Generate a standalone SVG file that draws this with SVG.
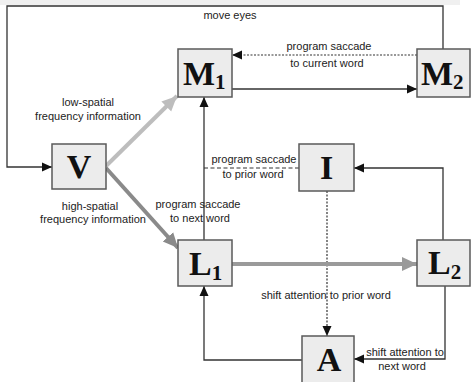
<svg xmlns="http://www.w3.org/2000/svg" width="471" height="382" viewBox="0 0 471 382">
<defs>
<marker id="ah" markerUnits="userSpaceOnUse" markerWidth="10" markerHeight="10" refX="10" refY="5" orient="auto"><path d="M0,0.5 L10,5 L0,9.5 Z" fill="#111"/></marker>
<marker id="gl" markerUnits="userSpaceOnUse" markerWidth="16" markerHeight="16" refX="15" refY="8" orient="auto"><path d="M0,1 L15,8 L0,15 Z" fill="#bdbdbd"/></marker>
<marker id="gd" markerUnits="userSpaceOnUse" markerWidth="16" markerHeight="16" refX="15" refY="8" orient="auto"><path d="M0,1 L15,8 L0,15 Z" fill="#8a8a8a"/></marker>
<marker id="gm" markerUnits="userSpaceOnUse" markerWidth="16" markerHeight="16" refX="15" refY="8" orient="auto"><path d="M0,1 L15,8 L0,15 Z" fill="#9a9a9a"/></marker>
</defs>
<style>
.box{fill:#ececec;stroke:#5a5a5a;stroke-width:1.5}
.big{font-family:"Liberation Serif",serif;font-weight:bold;font-size:34px;fill:#111}
.sub{font-size:21px}
.lbl{font-family:"Liberation Sans",Arial,sans-serif;font-size:11px;fill:#222;text-anchor:middle}
.ln{fill:none;stroke:#333;stroke-width:1.3}
.dot{fill:none;stroke:#333;stroke-width:1.2;stroke-dasharray:2,1.5}
.dash{fill:none;stroke:#333;stroke-width:1.2;stroke-dasharray:4,2.5}
</style>
<rect x="0" y="0" width="471" height="382" fill="#fff"/>
<rect x="0" y="0" width="460" height="5" fill="#f0f0f0"/>
<g id="connectors">
<polyline class="ln" points="443,49 443,6 7,6 7,167 52,167" marker-end="url(#ah)"/>
<line class="dot" x1="417" y1="55" x2="232" y2="55" marker-end="url(#ah)"/>
<line class="ln" x1="232" y1="89" x2="417" y2="89" marker-end="url(#ah)"/>
<line x1="106" y1="166" x2="177" y2="96" stroke="#bdbdbd" stroke-width="4" marker-end="url(#gl)"/>
<line x1="106" y1="168" x2="178" y2="248" stroke="#8a8a8a" stroke-width="4" marker-end="url(#gd)"/>
<line class="ln" x1="204" y1="240" x2="204" y2="97" marker-end="url(#ah)"/>
<line class="dash" x1="299" y1="168" x2="204" y2="168"/>
<polyline class="ln" points="443,240 443,168 354,168" marker-end="url(#ah)"/>
<line class="dot" x1="327" y1="191" x2="327" y2="336" marker-end="url(#ah)"/>
<line x1="232" y1="264" x2="417" y2="264" stroke="#9a9a9a" stroke-width="4" marker-end="url(#gm)"/>
<polyline class="ln" points="302,360 204,360 204,286" marker-end="url(#ah)"/>
<polyline class="ln" points="445,286 445,359 354,359" marker-end="url(#ah)"/>
<text class="lbl" x="230" y="19">move eyes</text>
<text class="lbl" x="329" y="50">program saccade</text>
<text class="lbl" x="327" y="67">to current word</text>
<text class="lbl" x="88" y="106">low-spatial</text>
<text class="lbl" x="88" y="120">frequency information</text>
<text class="lbl" x="90" y="210">high-spatial</text>
<text class="lbl" x="93" y="223">frequency information</text>
<text class="lbl" x="198" y="208">program saccade</text>
<text class="lbl" x="200" y="222">to next word</text>
<text class="lbl" x="254" y="163">program saccade</text>
<text class="lbl" x="253" y="178">to prior word</text>
<text class="lbl" x="326" y="299">shift attention to prior word</text>
<text class="lbl" x="405" y="356">shift attention to</text>
<text class="lbl" x="402" y="370">next word</text>
</g>
<g id="M1"><rect class="box" x="178" y="49" width="54" height="48"/><text class="big" x="183" y="85">M<tspan class="sub" dy="4">1</tspan></text></g>
<g id="M2"><rect class="box" x="417" y="49" width="53" height="48"/><text class="big" x="421" y="85">M<tspan class="sub" dy="4">2</tspan></text></g>
<g id="V"><rect class="box" x="52" y="144" width="54" height="45"/><text class="big" x="79" y="178" text-anchor="middle">V</text></g>
<g id="I"><rect class="box" x="299" y="144" width="55" height="47"/><text class="big" x="326.5" y="179" text-anchor="middle">I</text></g>
<g id="L1"><rect class="box" x="178" y="240" width="54" height="46"/><text class="big" x="189" y="275">L<tspan class="sub" dy="5">1</tspan></text></g>
<g id="L2"><rect class="box" x="417" y="240" width="53" height="46"/><text class="big" x="428" y="274">L<tspan class="sub" dy="5">2</tspan></text></g>
<g id="A"><rect class="box" x="302" y="336" width="52" height="50"/><text class="big" x="329" y="371" text-anchor="middle">A</text></g>
</svg>
